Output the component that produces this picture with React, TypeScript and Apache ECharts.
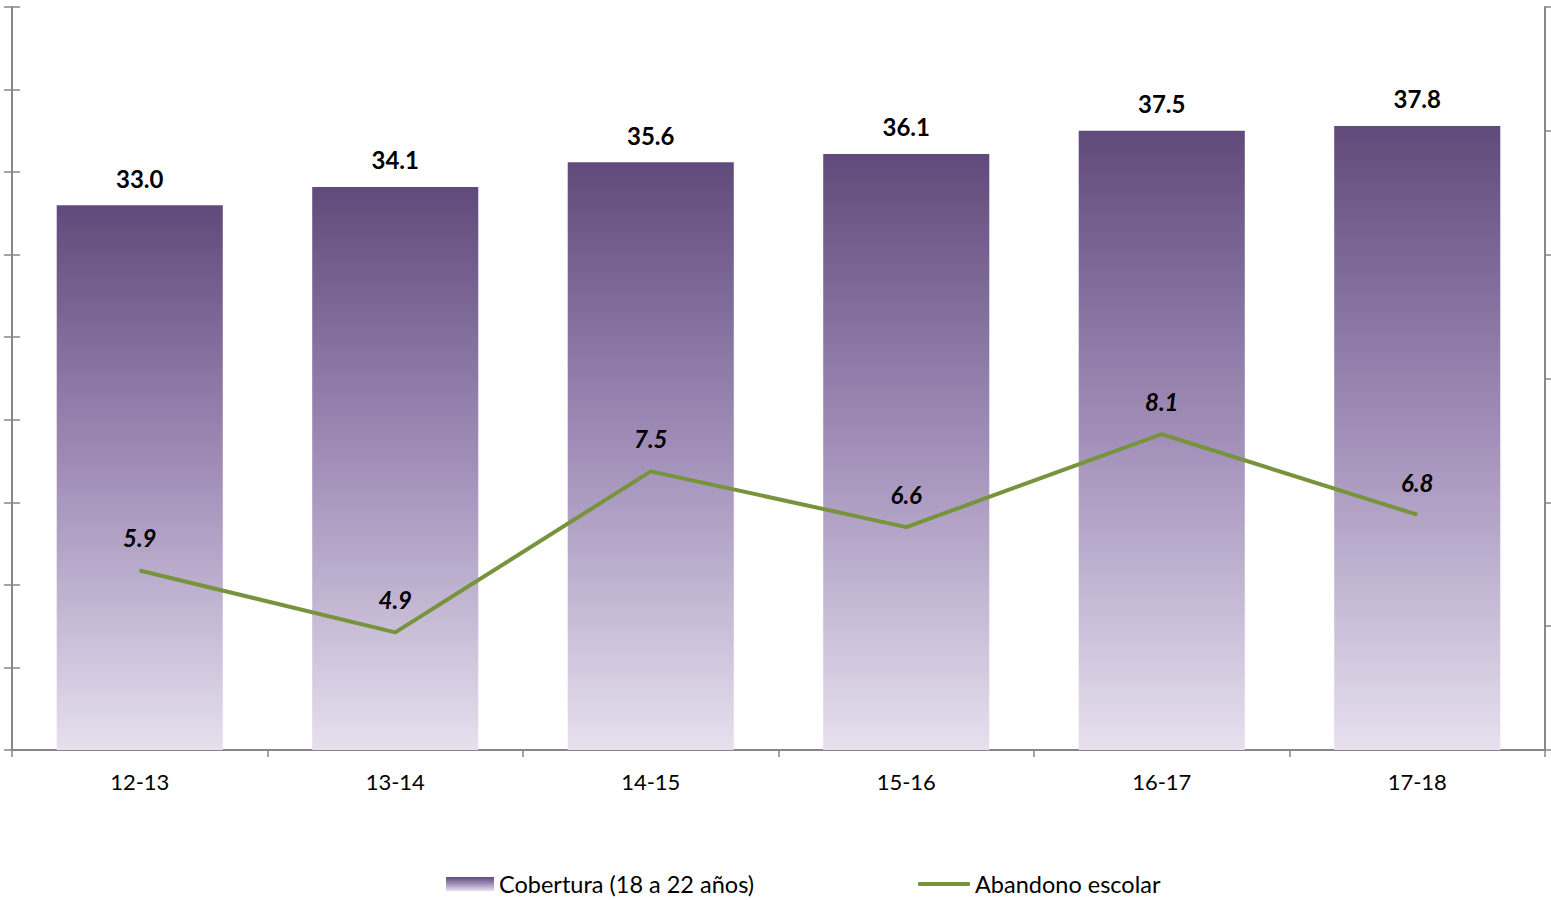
import React, { useEffect, useRef } from "react";
import * as echarts from "echarts";

const categories = ["12-13", "13-14", "14-15", "15-16", "16-17", "17-18"];
const coberturaValues = [33.0, 34.1, 35.6, 36.1, 37.5, 37.8];
const abandonoValues = [5.9, 4.9, 7.5, 6.6, 8.1, 6.8];
const seriesNames = ["Cobertura (18 a 22 años)", "Abandono escolar"];

const FONT = "Lato";
const AXIS_GREY = "#878787";
const GREEN = "#77933C";

export default function App() {
  const ref = useRef<HTMLDivElement>(null);
  useEffect(() => {
    document.body.style.margin = "0";
    const chart = echarts.init(ref.current!, null, { renderer: "svg" });
    const barGradient = new echarts.graphic.LinearGradient(0, 0, 0, 1, [
      { offset: 0, color: "#604A7B" },
      { offset: 0.5, color: "#A290BA" },
      { offset: 1, color: "#E6E0EE" },
    ]);
    const legendText = { fontFamily: FONT, fontSize: 23.5, lineHeight: 24, color: "#000" };
    chart.setOption({
      animation: false,
      textStyle: { fontFamily: FONT },
      grid: { left: 12, right: 6, top: 7, bottom: 150, containLabel: false },
      legend: [
        {
          left: 446,
          top: 872,
          padding: 0,
          itemWidth: 48,
          itemHeight: 14,
          itemGap: 6,
          textStyle: legendText,
          data: [{ name: seriesNames[0], icon: "rect" }],
        },
        {
          left: 918,
          top: 872,
          padding: 0,
          itemWidth: 52,
          itemHeight: 4,
          textStyle: legendText,
          data: [{ name: seriesNames[1], icon: "roundRect", itemStyle: { color: GREEN } }],
        },
      ],
      xAxis: {
        type: "category",
        data: categories,
        boundaryGap: true,
        axisLine: { show: true, lineStyle: { color: AXIS_GREY, width: 2 } },
        axisTick: { show: true, length: 7, lineStyle: { color: AXIS_GREY, width: 1.5 } },
        axisLabel: { fontFamily: FONT, fontSize: 22, color: "#000", margin: 20 },
        splitLine: { show: false },
      },
      yAxis: [
        {
          type: "value",
          min: 0,
          max: 45,
          interval: 5,
          position: "left",
          axisLine: { show: true, lineStyle: { color: AXIS_GREY, width: 2 } },
          axisTick: { show: true, length: 8, lineStyle: { color: AXIS_GREY, width: 1.5 } },
          axisLabel: { show: false },
          splitLine: { show: false },
        },
        {
          type: "value",
          min: 3,
          max: 15,
          interval: 2,
          position: "right",
          axisLine: { show: true, lineStyle: { color: AXIS_GREY, width: 2 } },
          axisTick: { show: true, length: 7, lineStyle: { color: AXIS_GREY, width: 1.5 } },
          axisLabel: { show: false },
          splitLine: { show: false },
        },
        {
          type: "value",
          min: 0,
          max: 45,
          interval: 5,
          position: "left",
          axisLine: { show: false },
          axisTick: { show: true, inside: true, length: 8, lineStyle: { color: AXIS_GREY, width: 1.5 } },
          axisLabel: { show: false },
          splitLine: { show: false },
        },
      ],
      series: [
        {
          name: seriesNames[0],
          type: "bar",
          yAxisIndex: 0,
          data: coberturaValues,
          barCategoryGap: "35%",
          itemStyle: { color: barGradient },
          label: {
            show: true,
            position: "top",
            distance: 15,
            fontFamily: FONT,
            fontSize: 24,
            lineHeight: 24,
            fontWeight: "bold",
            color: "#000",
            formatter: (p: any) => Number(p.value).toFixed(1),
          },
        },
        {
          name: seriesNames[1],
          type: "line",
          yAxisIndex: 1,
          data: abandonoValues,
          symbol: "circle",
          symbolSize: 1,
          showSymbol: true,
          lineStyle: { color: GREEN, width: 4 },
          itemStyle: { color: GREEN },
          label: {
            show: true,
            position: "top",
            distance: 20,
            fontFamily: FONT,
            fontSize: 24,
            lineHeight: 24,
            fontWeight: "bold",
            fontStyle: "italic",
            color: "#000",
            formatter: (p: any) => Number(p.value).toFixed(1),
          },
        },
      ],
    });
    return () => chart.dispose();
  }, []);
  return <div ref={ref} style={{ width: 1551, height: 900 }} />;
}
